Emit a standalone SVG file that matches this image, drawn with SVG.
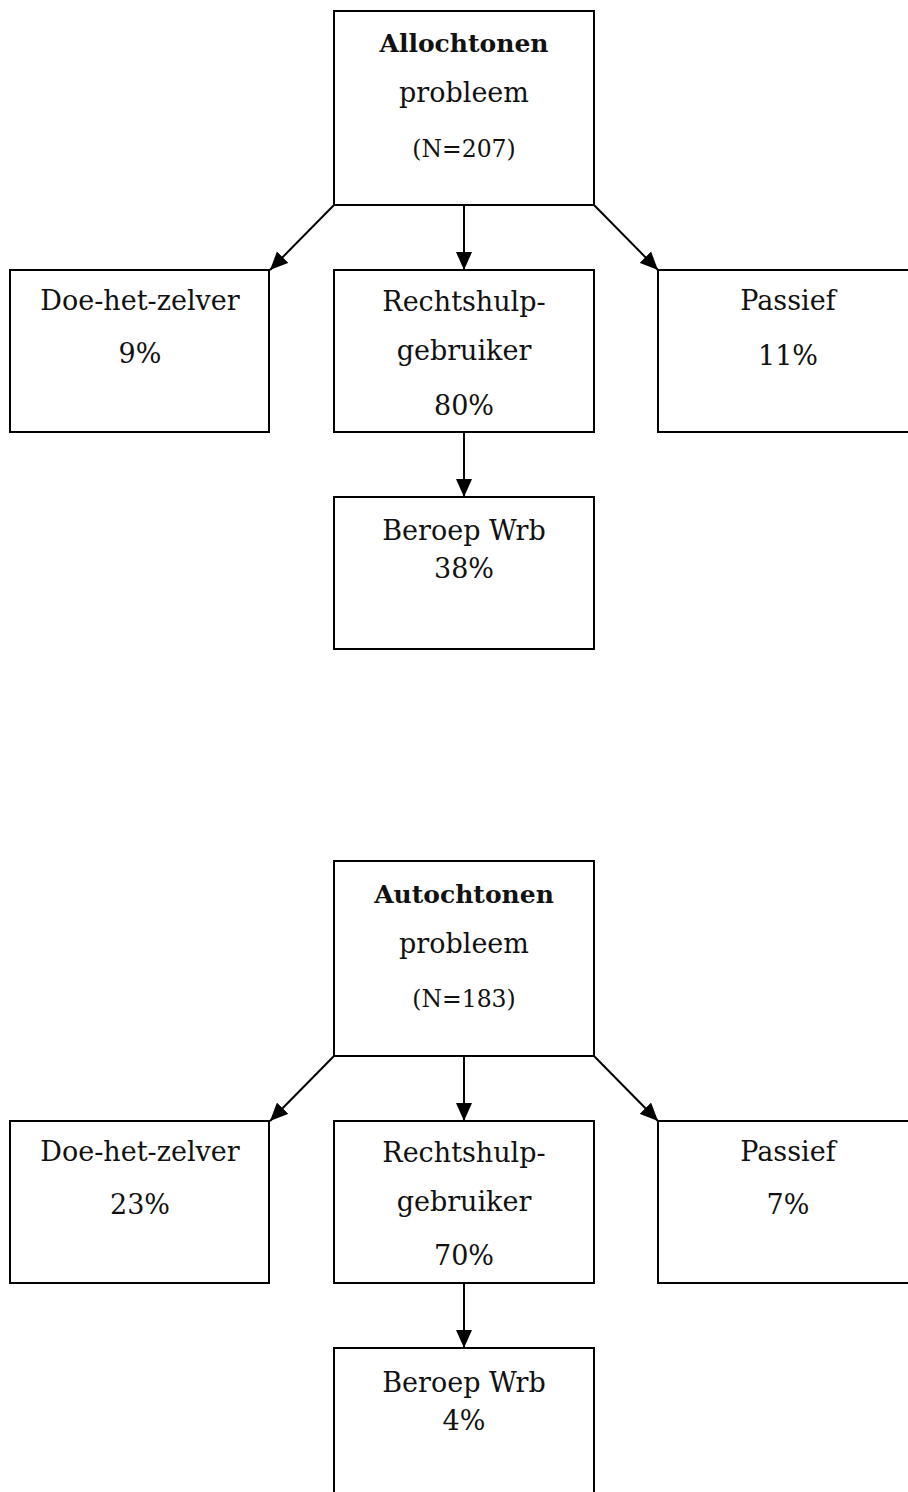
<svg xmlns="http://www.w3.org/2000/svg" width="908" height="1492" viewBox="0 0 908 1492">
<style>
.box{fill:#fff;stroke:#000;stroke-width:2}
.t{font-family:"DejaVu Serif","Liberation Serif",serif;font-size:27px;fill:#111;text-anchor:middle}
.b{font-weight:bold;font-size:25px}
.n{font-size:23.5px}
.c{stroke:#000;stroke-width:2;fill:none;marker-end:url(#ah)}
</style>
<defs>
<marker id="ah" markerUnits="userSpaceOnUse" markerWidth="20" markerHeight="16" refX="18" refY="8" orient="auto">
<path d="M0,0 L18,8 L0,16 z" fill="#000"/>
</marker>
</defs>
<rect width="908" height="1492" fill="#fff"/>
<g id="connectors">
<line class="c" x1="334" y1="205" x2="270" y2="270"/>
<line class="c" x1="464" y1="205" x2="464" y2="270"/>
<line class="c" x1="594" y1="205" x2="658" y2="270"/>
<line class="c" x1="464" y1="432" x2="464" y2="497"/>
<line class="c" x1="334" y1="1056" x2="270" y2="1121"/>
<line class="c" x1="464" y1="1056" x2="464" y2="1121"/>
<line class="c" x1="594" y1="1056" x2="658" y2="1121"/>
<line class="c" x1="464" y1="1283" x2="464" y2="1348"/>
</g>
<g id="allochtonen">
<rect class="box" x="334" y="11" width="260" height="194"/>
<text class="t b" x="464" y="52">Allochtonen</text>
<text class="t" x="464" y="102">probleem</text>
<text class="t n" x="464" y="157">(N=207)</text>
</g>
<g id="a-doehetzelver">
<rect class="box" x="10" y="270" width="259" height="162"/>
<text class="t" x="140" y="310">Doe-het-zelver</text>
<text class="t" x="140" y="363">9%</text>
</g>
<g id="a-rechtshulp">
<rect class="box" x="334" y="270" width="260" height="162"/>
<text class="t" x="464" y="311">Rechtshulp-</text>
<text class="t" x="464" y="360">gebruiker</text>
<text class="t" x="464" y="415">80%</text>
</g>
<g id="a-passief">
<rect class="box" x="658" y="270" width="260" height="162"/>
<text class="t" x="788" y="310">Passief</text>
<text class="t" x="788" y="365">11%</text>
</g>
<g id="a-beroep">
<rect class="box" x="334" y="497" width="260" height="152"/>
<text class="t" x="464" y="540">Beroep Wrb</text>
<text class="t" x="464" y="578">38%</text>
</g>
<g id="autochtonen">
<rect class="box" x="334" y="861" width="260" height="195"/>
<text class="t b" x="464" y="903">Autochtonen</text>
<text class="t" x="464" y="953">probleem</text>
<text class="t n" x="464" y="1007">(N=183)</text>
</g>
<g id="b-doehetzelver">
<rect class="box" x="10" y="1121" width="259" height="162"/>
<text class="t" x="140" y="1161">Doe-het-zelver</text>
<text class="t" x="140" y="1214">23%</text>
</g>
<g id="b-rechtshulp">
<rect class="box" x="334" y="1121" width="260" height="162"/>
<text class="t" x="464" y="1162">Rechtshulp-</text>
<text class="t" x="464" y="1211">gebruiker</text>
<text class="t" x="464" y="1265">70%</text>
</g>
<g id="b-passief">
<rect class="box" x="658" y="1121" width="260" height="162"/>
<text class="t" x="788" y="1161">Passief</text>
<text class="t" x="788" y="1214">7%</text>
</g>
<g id="b-beroep">
<rect class="box" x="334" y="1348" width="260" height="160"/>
<text class="t" x="464" y="1392">Beroep Wrb</text>
<text class="t" x="464" y="1430">4%</text>
</g>
</svg>
